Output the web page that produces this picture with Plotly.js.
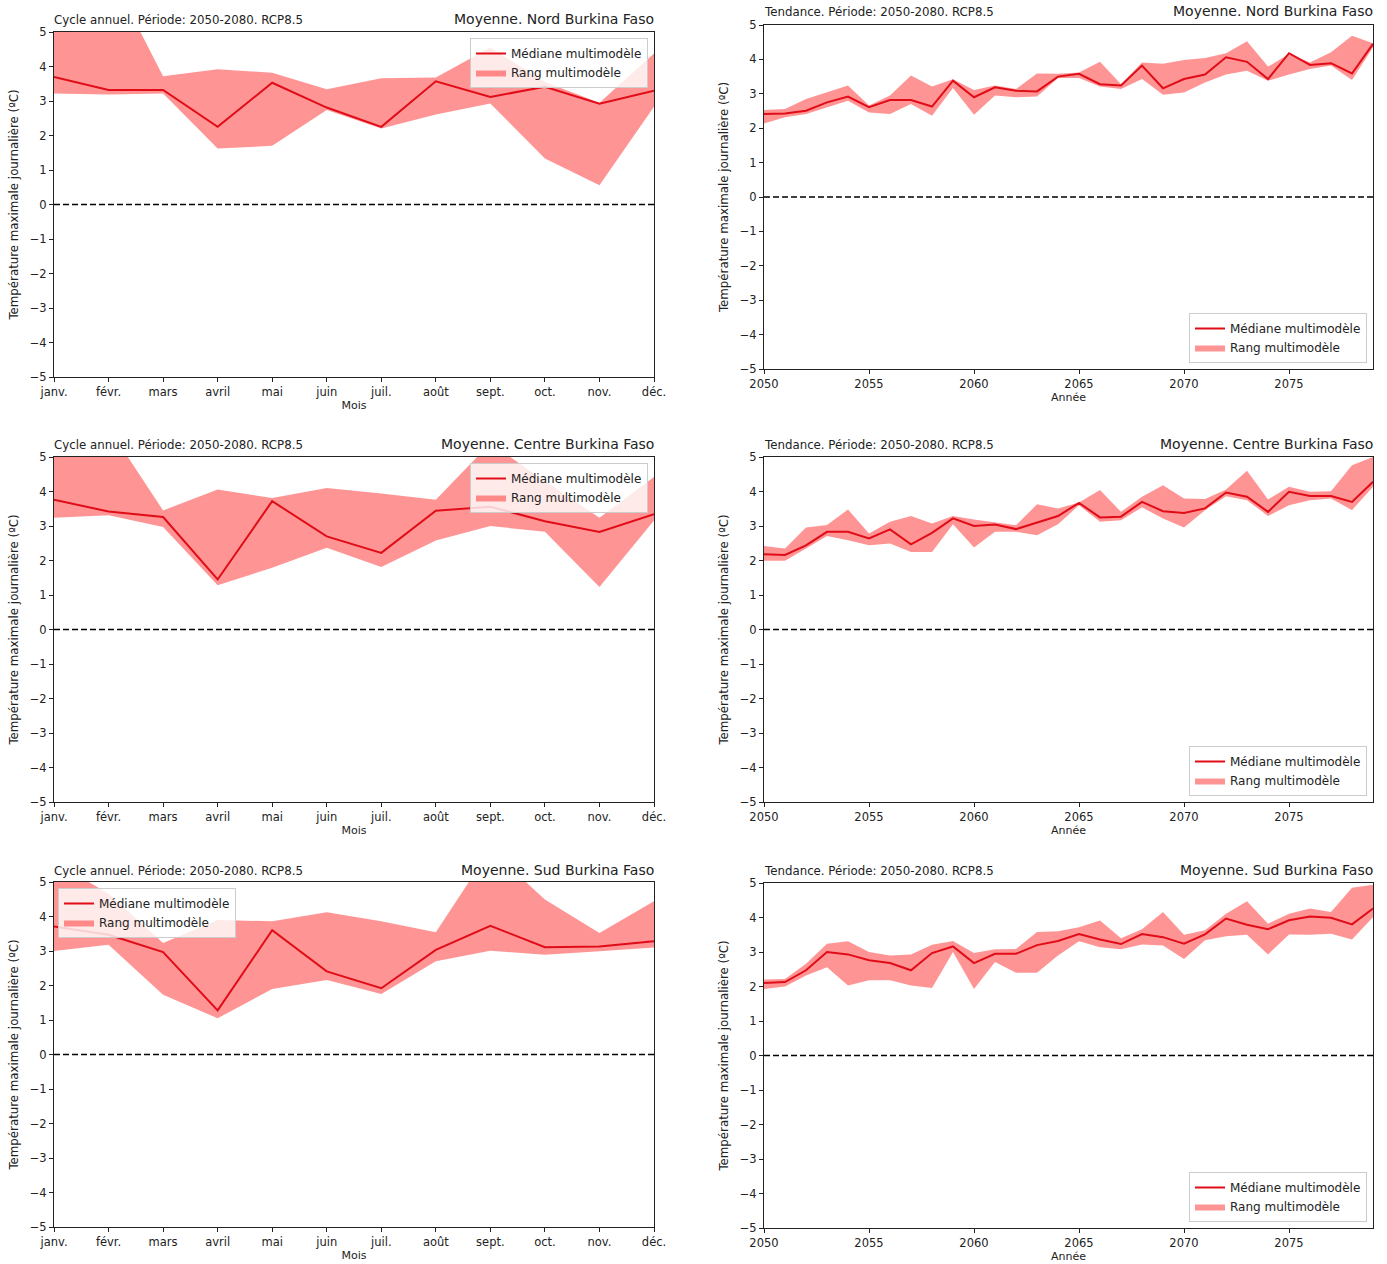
<!DOCTYPE html>
<html>
<head>
<meta charset="utf-8">
<script src="https://cdn.plot.ly/plotly-3.0.1.min.js"></script>
<style>html,body{margin:0;padding:0;background:#fff;}#chart{width:1387px;height:1264px;}</style>
</head>
<body>
<div id="chart"></div>
<script>
// ---------- DATA ----------
const months = ['janv.','févr.','mars','avril','mai','juin','juil.','août','sept.','oct.','nov.','déc.'];
const monthIdx = [0,1,2,3,4,5,6,7,8,9,10,11];
const years = [2050,2051,2052,2053,2054,2055,2056,2057,2058,2059,2060,2061,2062,2063,2064,2065,2066,2067,2068,2069,2070,2071,2072,2073,2074,2075,2076,2077,2078,2079];
const yearTicks = [2050,2055,2060,2065,2070,2075];
const yTicks = [-5,-4,-3,-2,-1,0,1,2,3,4,5];

const legendLine = 'Médiane multimodèle';
const legendBand = 'Rang multimodèle';
const yTitle = 'Température maximale journalière (ºC)';
const titleCycle = 'Cycle annuel. Période: 2050-2080. RCP8.5';
const titleTrend = 'Tendance. Période: 2050-2080. RCP8.5';
const regionTitles = ['Moyenne. Nord Burkina Faso','Moyenne. Centre Burkina Faso','Moyenne. Sud Burkina Faso'];

// Annual cycle (months)
const nordMoisMed = [3.70,3.32,3.32,2.25,3.53,2.81,2.25,3.57,3.12,3.41,2.92,3.30];
const nordMoisHi  = [6.00,6.80,3.72,3.92,3.82,3.34,3.66,3.68,4.55,3.55,2.95,4.38];
const nordMoisLo  = [3.22,3.19,3.22,1.62,1.70,2.74,2.20,2.61,2.93,1.33,0.56,2.83];

const centreMoisMed = [3.76,3.42,3.26,1.45,3.72,2.70,2.22,3.44,3.56,3.14,2.83,3.34];
const centreMoisHi  = [5.80,5.85,3.45,4.06,3.81,4.10,3.94,3.76,5.40,4.30,3.24,4.42];
const centreMoisLo  = [3.24,3.31,2.97,1.28,1.79,2.37,1.81,2.58,3.00,2.83,1.23,3.16];

const sudMoisMed = [3.71,3.47,2.97,1.28,3.60,2.41,1.92,3.03,3.73,3.11,3.13,3.28];
const sudMoisHi  = [5.60,4.66,3.23,3.90,3.86,4.12,3.86,3.54,5.95,4.49,3.52,4.44];
const sudMoisLo  = [3.00,3.18,1.73,1.05,1.90,2.16,1.75,2.70,3.01,2.89,2.99,3.10];

// Trends (years)
const nordAnMed = [2.41,2.43,2.51,2.75,2.92,2.61,2.82,2.82,2.63,3.38,2.90,3.19,3.09,3.07,3.50,3.58,3.28,3.24,3.82,3.16,3.43,3.56,4.06,3.93,3.43,4.18,3.84,3.89,3.59,4.45];
const nordAnHi  = [2.53,2.56,2.85,3.04,3.24,2.66,2.95,3.53,3.21,3.42,3.11,3.24,3.14,3.59,3.58,3.62,3.93,3.28,3.91,3.87,3.98,4.04,4.18,4.53,3.79,4.16,3.91,4.21,4.69,4.47];
const nordAnLo  = [2.14,2.32,2.41,2.61,2.80,2.46,2.41,2.70,2.36,3.17,2.39,2.95,2.90,2.92,3.46,3.46,3.21,3.14,3.43,2.97,3.04,3.33,3.56,3.67,3.38,3.56,3.72,3.82,3.40,4.35];

const centreAnMed = [2.18,2.16,2.44,2.83,2.83,2.64,2.90,2.47,2.80,3.22,3.00,3.04,2.91,3.09,3.29,3.67,3.25,3.27,3.70,3.43,3.38,3.51,3.97,3.85,3.41,3.99,3.87,3.87,3.70,4.28];
const centreAnHi  = [2.42,2.35,2.96,3.03,3.48,2.78,3.12,3.29,3.07,3.29,3.19,3.10,3.02,3.63,3.51,3.68,4.04,3.41,3.85,4.18,3.80,3.78,4.06,4.60,3.77,4.14,3.99,4.01,4.76,5.00];
const centreAnLo  = [1.99,1.99,2.35,2.71,2.59,2.44,2.49,2.25,2.25,3.05,2.38,2.83,2.83,2.73,3.05,3.60,3.12,3.17,3.54,3.22,2.96,3.46,3.86,3.75,3.29,3.60,3.75,3.80,3.46,4.14];

const sudAnMed = [2.10,2.13,2.47,3.00,2.93,2.76,2.68,2.47,2.97,3.16,2.68,2.95,2.95,3.20,3.32,3.52,3.36,3.23,3.52,3.43,3.24,3.51,3.97,3.79,3.66,3.92,4.03,3.99,3.80,4.26];
const sudAnHi  = [2.20,2.22,2.66,3.24,3.31,3.00,2.90,2.93,3.21,3.32,2.97,3.08,3.09,3.58,3.60,3.72,3.91,3.40,3.66,4.16,3.50,3.63,4.11,4.47,3.82,4.11,4.26,4.16,4.86,4.95];
const sudAnLo  = [1.93,2.00,2.32,2.56,2.03,2.18,2.18,2.03,1.96,3.00,1.93,2.71,2.40,2.40,2.90,3.31,3.14,3.08,3.22,3.19,2.80,3.34,3.46,3.50,2.93,3.51,3.50,3.53,3.36,4.01];

// ---------- LAYOUT HELPERS ----------
const W = 1387, H = 1264;
const FONT = 'DejaVu Sans, Verdana, sans-serif';
const INK = '#222';
const fx = p => p / W;
const fy = p => 1 - p / H;

const panels = [
  {kind:'m', x:monthIdx, med:nordMoisMed, hi:nordMoisHi, lo:nordMoisLo, box:[54,654,32,377], leg:[648,38,'right','top'], tL:titleCycle, tR:regionTitles[0], tY:20},
  {kind:'y', x:years, med:nordAnMed, hi:nordAnHi, lo:nordAnLo, box:[764,1373,25,369], leg:[1367,363,'right','bottom'], tL:titleTrend, tR:regionTitles[0], tY:12},
  {kind:'m', x:monthIdx, med:centreMoisMed, hi:centreMoisHi, lo:centreMoisLo, box:[54,654,457,802], leg:[648,463,'right','top'], tL:titleCycle, tR:regionTitles[1], tY:445},
  {kind:'y', x:years, med:centreAnMed, hi:centreAnHi, lo:centreAnLo, box:[764,1373,457,802], leg:[1367,796,'right','bottom'], tL:titleTrend, tR:regionTitles[1], tY:445},
  {kind:'m', x:monthIdx, med:sudMoisMed, hi:sudMoisHi, lo:sudMoisLo, box:[54,654,882,1227], leg:[58,888,'left','top'], tL:titleCycle, tR:regionTitles[2], tY:871},
  {kind:'y', x:years, med:sudAnMed, hi:sudAnHi, lo:sudAnLo, box:[764,1373,883,1228], leg:[1367,1222,'right','bottom'], tL:titleTrend, tR:regionTitles[2], tY:871}
];

const data = [];
const layout = {
  width: W, height: H,
  margin: {l:0, r:0, t:0, b:0},
  paper_bgcolor: '#fff', plot_bgcolor: '#fff',
  font: {family: FONT, color: INK, size: 11},
  shapes: [], annotations: [],
  showlegend: true
};

panels.forEach((p, i) => {
  const n = i + 1;
  const xa = n === 1 ? 'x' : 'x' + n;
  const ya = n === 1 ? 'y' : 'y' + n;
  const lg = n === 1 ? 'legend' : 'legend' + n;
  const [bx0, bx1, by0, by1] = p.box;

  data.push({type:'scatter', mode:'lines', x:p.x, y:p.lo, xaxis:xa, yaxis:ya,
    line:{width:0, color:'rgba(255,0,0,0)'}, showlegend:false, hoverinfo:'skip', legend:lg});
  data.push({type:'scatter', mode:'lines', x:p.x, y:p.hi, xaxis:xa, yaxis:ya,
    fill:'tonexty', fillcolor:'rgba(255,0,0,0.42)', line:{width:0, color:'rgba(255,0,0,0)'},
    name:legendBand, legend:lg, hoverinfo:'skip'});
  data.push({type:'scatter', mode:'lines', x:p.x, y:p.med, xaxis:xa, yaxis:ya,
    line:{width:2, color:'#e00d18'}, name:legendLine, legend:lg});

  const common = {showline:true, mirror:true, linecolor:INK, linewidth:1, ticks:'outside', ticklen:4,
    tickcolor:INK, tickwidth:1, showgrid:false, zeroline:false, automargin:false,
    tickfont:{family:FONT, size:11.5, color:INK}};

  layout[n === 1 ? 'xaxis' : 'xaxis' + n] = Object.assign({}, common, {
    domain:[fx(bx0), fx(bx1)], anchor:ya,
    range: p.kind === 'm' ? [0, 11] : [2050, 2079],
    tickmode:'array',
    tickvals: p.kind === 'm' ? monthIdx : yearTicks,
    ticktext: p.kind === 'm' ? months : yearTicks.map(String),
    title:{text: p.kind === 'm' ? 'Mois' : 'Année', font:{family:FONT, size:11, color:INK}, standoff:3}
  });
  layout[n === 1 ? 'yaxis' : 'yaxis' + n] = Object.assign({}, common, {
    domain:[fy(by1), fy(by0)], anchor:xa, range:[-5, 5],
    tickmode:'array', tickvals:yTicks, ticktext:yTicks.map(v => v < 0 ? '\u2212' + Math.abs(v) : String(v)),
    title:{text:yTitle, font:{family:FONT, size:11.8, color:INK}, standoff:8}
  });

  layout[lg] = {x:fx(p.leg[0]), y:fy(p.leg[1]), xanchor:p.leg[2], yanchor:p.leg[3],
    xref:'paper', yref:'paper', traceorder:'reversed',
    bgcolor:'rgba(255,255,255,0.8)', bordercolor:'#cccccc', borderwidth:1,
    font:{family:FONT, size:12, color:INK}, itemwidth:30, tracegroupgap:0};

  layout.shapes.push({type:'line', xref:xa + ' domain', yref:ya, x0:0, x1:1, y0:0, y1:0,
    line:{color:'#000', width:1.5, dash:'6px,3px'}});

  layout.annotations.push({text:p.tL, xref:'paper', yref:'paper', x:fx(bx0 - 2), y:fy(p.tY),
    xanchor:'left', yanchor:'middle', showarrow:false, font:{family:FONT, size:11.8, color:INK}});
  layout.annotations.push({text:p.tR, xref:'paper', yref:'paper', x:fx(bx1 + 2), y:fy(p.tY - 1),
    xanchor:'right', yanchor:'middle', showarrow:false, font:{family:FONT, size:14, color:INK}});
});

Plotly.newPlot('chart', data, layout, {displayModeBar:false, staticPlot:true});
</script>
</body>
</html>
